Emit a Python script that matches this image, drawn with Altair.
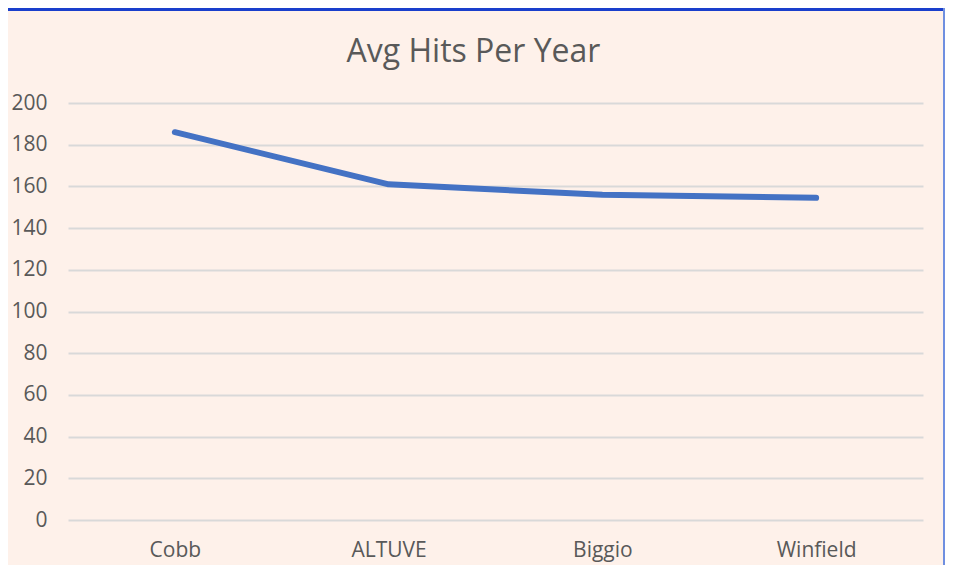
import altair as alt
import pandas as pd

players = ["Cobb", "ALTUVE", "Biggio", "Winfield"]
avg_hits = [186, 161, 156, 154.5]

df = pd.DataFrame({"player": players, "hits": avg_hits})

FONT = "Open Sans"
TXT = "#595959"

line = alt.Chart(df).mark_line(
    color="#4472C4", strokeWidth=6, strokeCap="round", strokeJoin="round"
).encode(
    x=alt.X("player:N", sort=players, title=None,
            scale=alt.Scale(type="point", padding=0.5),
            axis=alt.Axis(ticks=False, domain=False, grid=False, labelAngle=0,
                          labelFontSize=21, labelColor=TXT, labelFont=FONT,
                          labelPadding=19)),
    y=alt.Y("hits:Q", title=None,
            scale=alt.Scale(domain=[0, 200], nice=False),
            axis=alt.Axis(values=list(range(0, 201, 20)), ticks=False, domain=False,
                          gridColor="#D9D9D9", gridWidth=2,
                          labelFontSize=21, labelColor=TXT, labelFont=FONT,
                          labelPadding=21)),
)

top_border = alt.Chart(df).mark_rule(color="#1A3FCC", strokeWidth=3, clip=False).encode(
    x=alt.value(-60), x2=alt.value(877), y=alt.value(-93.5)
)
right_border = alt.Chart(df).mark_rule(color="#6F8FE0", strokeWidth=2, clip=False).encode(
    x=alt.value(876), y=alt.value(-95), y2=alt.value(462)
)

chart = alt.layer(line, top_border, right_border).properties(
    width=855, height=417,
    background="#FEF1EA",
    padding={"left": 60, "top": 95, "right": 22, "bottom": 45},
    autosize=alt.AutoSizeParams(type="none"),
    title=alt.TitleParams("Avg Hits Per Year", fontSize=32, font=FONT, color=TXT,
                          fontWeight="normal", anchor="middle", frame="group",
                          baseline="alphabetic", offset=0, dx=-22, dy=87),
).configure_view(stroke=None)

chart.save("out.html", embed_options={"renderer": "svg", "actions": False})
